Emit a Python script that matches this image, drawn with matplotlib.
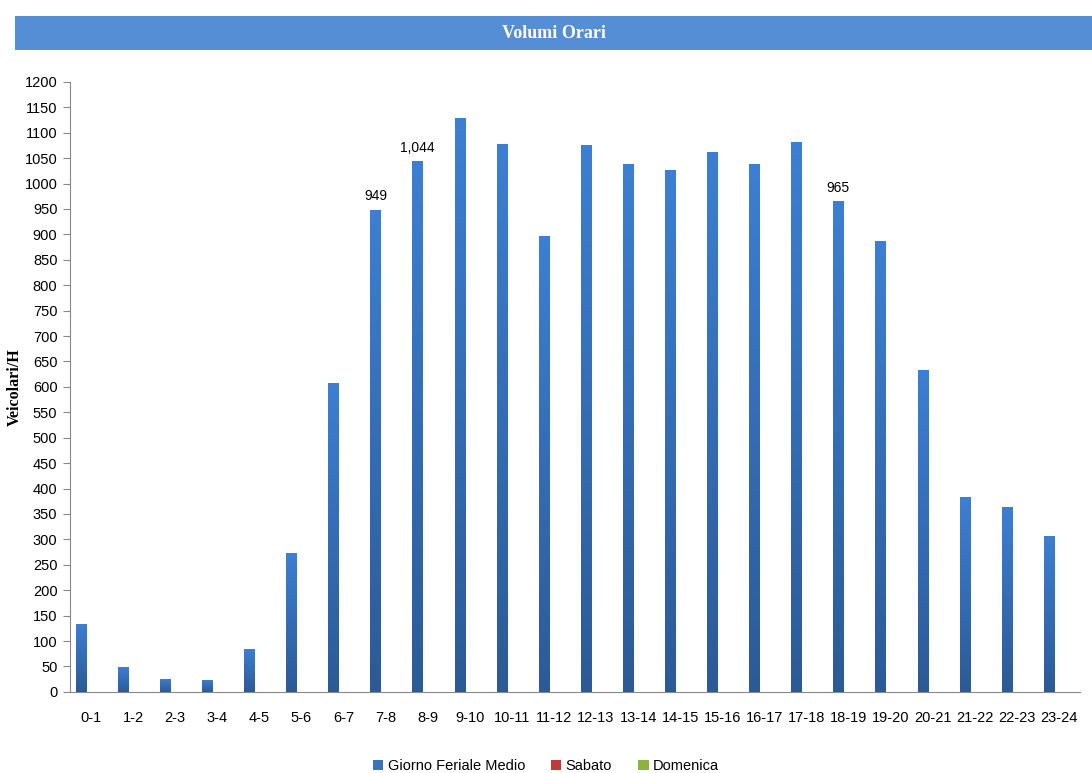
import numpy as np
import matplotlib.pyplot as plt
from matplotlib.colors import LinearSegmentedColormap
from matplotlib.patches import Rectangle

fasce = ['0-1', '1-2', '2-3', '3-4', '4-5', '5-6', '6-7', '7-8', '8-9', '9-10',
         '10-11', '11-12', '12-13', '13-14', '14-15', '15-16', '16-17', '17-18',
         '18-19', '19-20', '20-21', '21-22', '22-23', '23-24']
feriale = [134, 49, 26, 24, 85, 273, 608, 949, 1044, 1129, 1078, 897, 1076,
           1039, 1027, 1062, 1039, 1082, 965, 887, 633, 384, 364, 307]
sabato = [0] * 24
domenica = [0] * 24
etichette = {7: '949', 8: '1,044', 18: '965'}

fig = plt.figure(figsize=(10.92, 7.73), dpi=100)

# title band
band = fig.add_axes([0.014, 0.935, 0.986, 0.044])
band.set_xlim(0, 1)
band.set_ylim(0, 1)
band.axis('off')
band.add_patch(Rectangle((0, 0), 1, 1, color='#558ed5'))
band.text(0.5, 0.5, 'Volumi Orari', ha='center', va='center', color='white',
          fontsize=13, fontweight='bold', family='Liberation Serif')

ax = fig.add_axes([0.064, 0.105, 0.925, 0.789])
x = np.arange(len(fasce))
w = 0.24
bars = ax.bar(x - w, feriale, w, color='#3a72bd', label='Giorno Feriale Medio', zorder=2)
ax.bar(x, sabato, w, color='#c0393b', label='Sabato', zorder=2)
ax.bar(x + w, domenica, w, color='#8cb43c', label='Domenica', zorder=2)

# vertical gradient on bars (lighter top, darker bottom)
cmap = LinearSegmentedColormap.from_list('g', ['#2c5a96', '#3d7fd3'])
grad = np.linspace(0, 1, 256).reshape(-1, 1)
for b in bars:
    bx, by = b.get_x(), b.get_y()
    bw, bh = b.get_width(), b.get_height()
    im = ax.imshow(grad, cmap=cmap, origin='lower', aspect='auto',
                   extent=[bx, bx + bw, by, by + bh], zorder=3)
    im.set_clip_path(b)

for i, t in etichette.items():
    ax.text(x[i] - w, feriale[i] + 12, t, ha='center', va='bottom', fontsize=10,
            family='Liberation Sans')

ax.set_xlim(-0.5, len(fasce) - 0.5)
ax.set_ylim(0, 1200)
ax.set_yticks(range(0, 1201, 50))
ax.set_xticks(x)
ax.set_xticklabels(fasce)
ax.tick_params(axis='x', length=0, pad=14, labelsize=10.5)
ax.tick_params(axis='y', length=5, color='#888888', labelsize=10.5, pad=4)
for lab in ax.get_xticklabels() + ax.get_yticklabels():
    lab.set_family('Liberation Sans')
for s in ['top', 'right']:
    ax.spines[s].set_visible(False)
for s in ['left', 'bottom']:
    ax.spines[s].set_color('#888888')

ax.set_ylabel('Veicolari/H', family='Liberation Serif', fontweight='bold', fontsize=11.5)
ax.yaxis.set_label_coords(-0.047, 0.5)

fig.legend(loc='lower center', bbox_to_anchor=(0.5, -0.017), ncol=3, frameon=False,
           handlelength=0.7, handleheight=0.7, handletextpad=0.3, columnspacing=1.8,
           prop={'family': 'Liberation Sans', 'size': 10.5})

fig.savefig('out.png', dpi=100)
